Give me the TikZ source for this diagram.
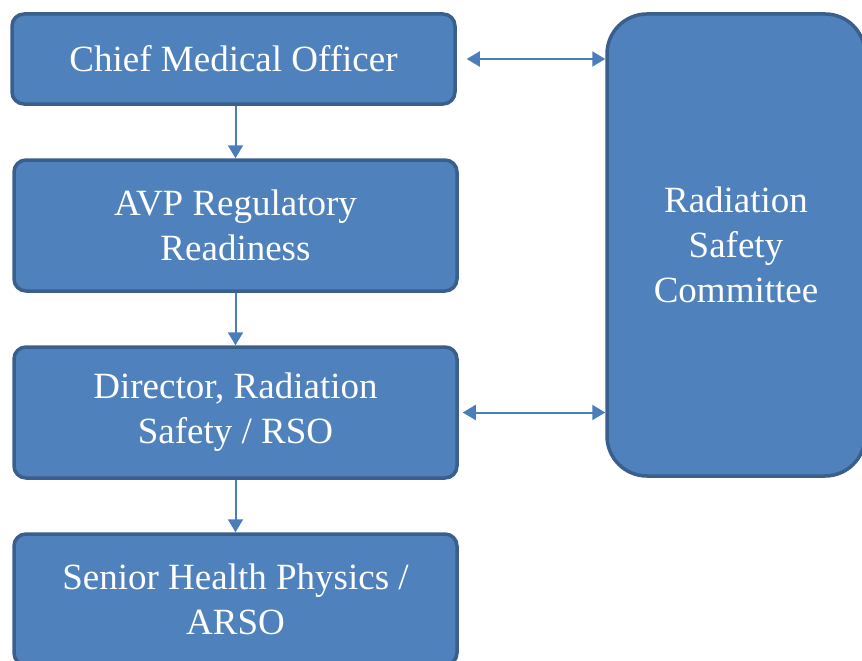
\documentclass[tikz,border=0pt]{standalone}
\usepackage{fontspec}
\setmainfont{Liberation Serif}
\usetikzlibrary{arrows.meta,positioning}
\definecolor{boxfill}{HTML}{4F81BD}
\definecolor{boxline}{HTML}{3A5F8C}
\definecolor{linkcol}{HTML}{4A7EBB}

\begin{document}
\begin{tikzpicture}[x=1pt,y=-1pt,
    box/.style={draw=boxline, fill=boxfill, line width=3.5pt, rounded corners=12pt,
        text=white, align=center, inner sep=0pt, minimum width=443pt,
        font=\fontsize{37}{45}\selectfont},
    link/.style={draw=linkcol, line width=2pt, >={Triangle[length=13pt,width=15pt]}}]
            % page frame
            \useasboundingbox (0,0) rectangle (862,661);
            \clip (0,0) rectangle (862,661);

            % chain of posts
            \node[box, minimum height=90pt] (cmo) at (233.5,59) {Chief Medical Officer};
            \node[box, minimum height=131pt] (avp) at (235.5,225.5) {AVP Regulatory\\Readiness};
            \node[box, minimum height=131pt] (dir) at (235.5,412.5) {Director, Radiation\\Safety / RSO};
            \node[box, minimum height=131pt] (shp) at (235.5,599.5) {Senior Health Physics /\\ARSO};

            % committee
            \node[box, minimum width=258pt, minimum height=462pt, rounded corners=40pt] (rsc) at (736,245)
                {Radiation\\Safety\\Committee};

            % reporting lines
            \draw[link, ->] (cmo.south -| avp.north) -- (avp.north);
            \draw[link, ->] (avp) -- (dir);
            \draw[link, ->] (dir) -- (shp);

            % links to the committee
            \draw[link, <->] ([xshift=10pt]cmo.east) -- (rsc.west |- cmo.east);
            \draw[link, <->] ([xshift=4pt]dir.east) -- (rsc.west |- dir.east);
        \end{tikzpicture}
\end{document}
